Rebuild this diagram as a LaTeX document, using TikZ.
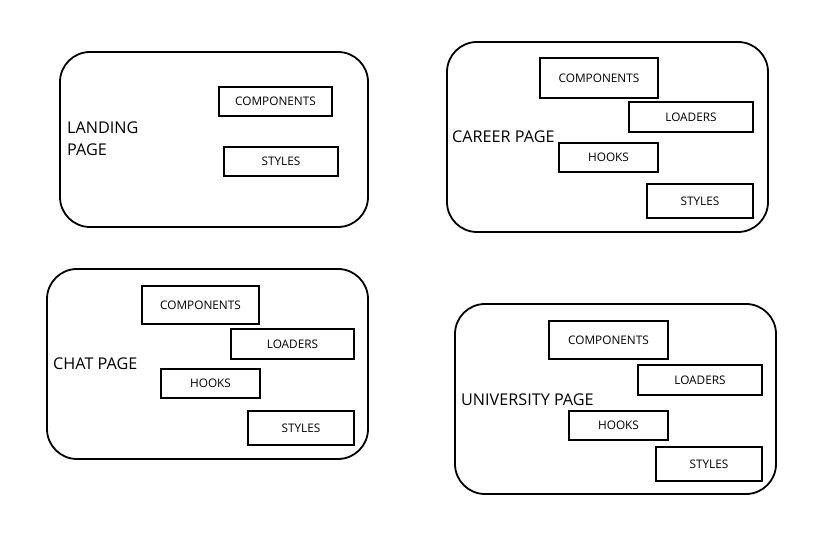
\documentclass[tikz,border=0pt]{standalone}
\usepackage{fontspec}
\setmainfont{Open Sans}
\usepackage{tikz}
\tikzset{
  frame/.style={draw, line width=1.8pt, rounded corners=30pt, inner sep=0pt},
  part/.style={draw, line width=1.8pt, inner sep=0pt, font=\fontsize{11.8}{13}\selectfont},
  pagelabel/.style={anchor=base west, inner sep=0pt, align=left, font=\fontsize{16.2}{22}\selectfont}
}

\begin{document}
\begin{tikzpicture}[x=1pt, y=-1pt]
\useasboundingbox (0,0) rectangle (833,534);

% landing page
\node[frame, minimum width=308pt, minimum height=175pt] (landing) at (214,139.5) {};
\node[pagelabel] (landinglabel) at (67,156) {LANDING\\PAGE};
\node[part, minimum width=113pt, minimum height=29pt] (landingcomp) at (275.5,101.5) {COMPONENTS};
\node[part, minimum width=114pt, minimum height=29pt] (landingstyles) at (281,161.5) {STYLES};

% career page
\node[frame, minimum width=321pt, minimum height=190pt] (career) at (607.5,137) {};
\node[pagelabel] (careerlabel) at (452,143) {CAREER PAGE};
\node[part, minimum width=118pt, minimum height=40pt] (careercomp) at (599,78) {COMPONENTS};
\node[part, minimum width=124pt, minimum height=30pt] (careerloaders) at (691,117) {LOADERS};
\node[part, minimum width=99pt, minimum height=29pt] (careerhooks) at (608.5,157.5) {HOOKS};
\node[part, minimum width=106pt, minimum height=34pt] (careerstyles) at (700,201) {STYLES};

% chat page
\node[frame, minimum width=321pt, minimum height=190pt] (chat) at (207.5,364) {};
\node[pagelabel] (chatlabel) at (53,370) {CHAT PAGE};
\node[part, minimum width=117pt, minimum height=38pt] (chatcomp) at (200.5,305) {COMPONENTS};
\node[part, minimum width=123pt, minimum height=30pt] (chatloaders) at (292.5,344) {LOADERS};
\node[part, minimum width=99pt, minimum height=29pt] (chathooks) at (210.5,383.5) {HOOKS};
\node[part, minimum width=106pt, minimum height=34pt] (chatstyles) at (301,428) {STYLES};

% university page
\node[frame, minimum width=321pt, minimum height=190pt] (university) at (615.5,399) {};
\node[pagelabel] (universitylabel) at (461,406) {UNIVERSITY PAGE};
\node[part, minimum width=119pt, minimum height=38pt] (universitycomp) at (608.5,340) {COMPONENTS};
\node[part, minimum width=124pt, minimum height=30pt] (universityloaders) at (700,380) {LOADERS};
\node[part, minimum width=99pt, minimum height=29pt] (universityhooks) at (618.5,425.5) {HOOKS};
\node[part, minimum width=106pt, minimum height=34pt] (universitystyles) at (709,464) {STYLES};
\end{tikzpicture}
\end{document}
